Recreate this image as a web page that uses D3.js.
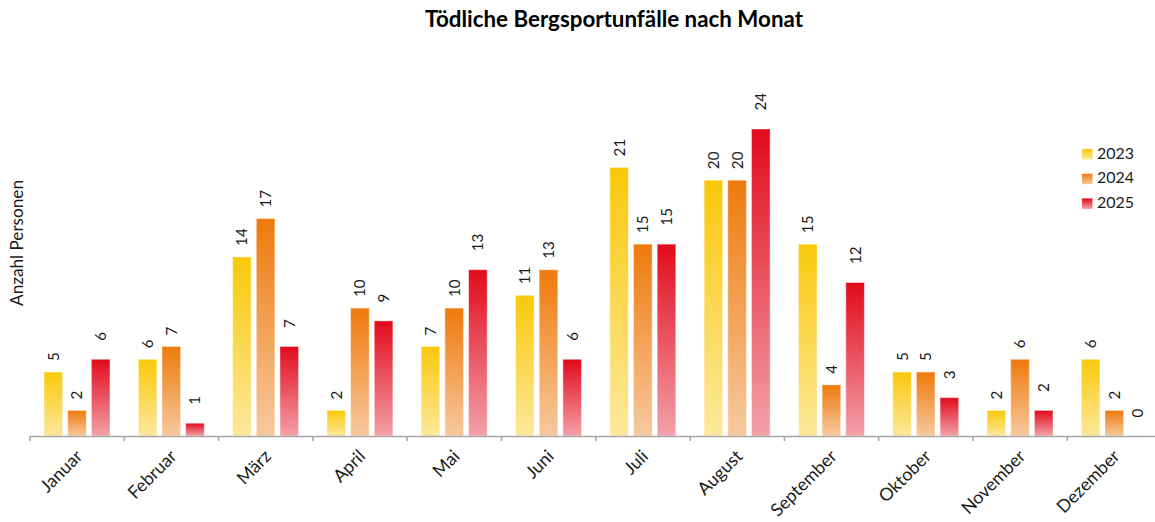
<!DOCTYPE html>
<html>
<head>
<meta charset="utf-8">
<script src="https://cdn.jsdelivr.net/npm/d3@7"></script>
<style>
  html, body { margin: 0; padding: 0; background: #fff; }
  svg { display: block; font-family: Lato, "Open Sans", sans-serif; }
</style>
</head>
<body>
<svg id="chart" width="1155" height="522"></svg>
<script>
// ---- data ----
const months = ["Januar","Februar","März","April","Mai","Juni","Juli","August","September","Oktober","November","Dezember"];
const seriesNames = ["2023","2024","2025"];
const values2023 = [5,6,14,2,7,11,21,20,15,5,2,6];
const values2024 = [2,7,17,10,10,13,15,20,4,5,6,2];
const values2025 = [6,1,7,9,13,6,15,24,12,3,2,0];
const chartTitle = "Tödliche Bergsportunfälle nach Monat";
const yTitle = "Anzahl Personen";

// ---- styles ----
const seriesStyle = {
  "2023": { top: "#F9C80A", bottom: "#FDE89C", labelGap: 11 },
  "2024": { top: "#EE7A0B", bottom: "#F7C99F", labelGap: 11 },
  "2025": { top: "#E20A1B", bottom: "#F3A1A9", labelGap: 18.5 }
};
const seriesValues = { "2023": values2023, "2024": values2024, "2025": values2025 };

const svg = d3.select("#chart");
const defs = svg.append("defs");
seriesNames.forEach((s, i) => {
  const g = defs.append("linearGradient").attr("id", "grad" + i)
    .attr("x1", 0).attr("y1", 0).attr("x2", 0).attr("y2", 1);
  g.append("stop").attr("offset", "0%").attr("stop-color", seriesStyle[s].top);
  g.append("stop").attr("offset", "100%").attr("stop-color", seriesStyle[s].bottom);
});

const axisY = 436;
const bandW = 94.3;
const x = d3.scaleBand().domain(months).range([30, 30 + bandW * 12]).padding(0);
const x1 = d3.scaleBand().domain(seriesNames).range([14, 80]).paddingInner(0.213).paddingOuter(0);
const y = d3.scaleLinear().domain([0, 24]).range([axisY, 129]);

function fit(sel, target) {
  const n = sel.node();
  const fs = parseFloat(sel.attr("font-size"));
  const w = n.getComputedTextLength();
  sel.attr("font-size", (fs * target / w).toFixed(2));
}

// title
const t = svg.append("text").attr("x", 614).attr("y", 27).attr("text-anchor", "middle")
  .attr("font-weight", "bold").attr("font-size", 20).attr("fill", "#000").text(chartTitle);
fit(t, 378);

// y title
const yt = svg.append("text").attr("transform", "translate(17,243) rotate(-90)")
  .attr("text-anchor", "middle").attr("dy", "0.35em").attr("font-size", 16).attr("fill", "#1a1a1a").text(yTitle);
fit(yt, 126);

// bars
const groups = svg.append("g").selectAll("g").data(months).join("g")
  .attr("transform", d => `translate(${x(d)},0)`);

seriesNames.forEach((s, i) => {
  const vals = seriesValues[s];
  groups.append("rect")
    .attr("x", (d) => x1(s))
    .attr("width", x1.bandwidth())
    .attr("y", (d, j) => y(vals[j]))
    .attr("height", (d, j) => axisY - y(vals[j]))
    .attr("fill", `url(#grad${i})`)
    .attr("stroke", "rgba(255,255,255,0.45)")
    .attr("stroke-width", 1);
});

// data labels
const labelSize = 15.2;
seriesNames.forEach((s, i) => {
  const vals = seriesValues[s];
  groups.append("text")
    .attr("transform", (d, j) => `translate(${x1(s) + x1.bandwidth() / 2},${y(vals[j]) - seriesStyle[s].labelGap}) rotate(-90)`)
    .attr("dy", "0.36em")
    .attr("font-size", labelSize)
    .attr("fill", "#1a1a1a")
    .text((d, j) => vals[j]);
});

// axis
const axis = d3.axisBottom(x).tickSize(0).tickSizeOuter(0);
const ax = svg.append("g").attr("transform", `translate(0,${axisY})`).call(axis);
ax.select(".domain").attr("stroke", "#a6a6a6").attr("stroke-width", 1.5);
ax.selectAll(".tick text")
  .attr("font-size", 15)
  .attr("font-family", "Lato, 'Open Sans', sans-serif")
  .attr("fill", "#1a1a1a")
  .attr("text-anchor", "end")
  .attr("transform", "translate(2,17) rotate(-45)")
  .attr("y", 0).attr("x", 0).attr("dy", "0.35em");
// fit label size to "September"
const sepNode = ax.selectAll(".tick text").filter(d => d === "September");
const sw = sepNode.node().getComputedTextLength();
ax.selectAll(".tick text").attr("font-size", (15 * 85 / sw).toFixed(2));

// boundary ticks
ax.selectAll("line.bt").data(months).join("line").attr("class", "bt")
  .attr("x1", d => x(d)).attr("x2", d => x(d))
  .attr("y1", 0).attr("y2", 5)
  .attr("stroke", "#a6a6a6").attr("stroke-width", 1.5);

// legend
const legend = svg.append("g");
seriesNames.forEach((s, i) => {
  const ly = 149 + i * 24.7;
  legend.append("rect").attr("x", 1082).attr("y", ly).attr("width", 10.5).attr("height", 10.5)
    .attr("fill", `url(#grad${i})`);
  const lt = legend.append("text").attr("x", 1097).attr("y", ly + 9.5)
    .attr("font-size", 16).attr("fill", "#1a1a1a").text(s);
  fit(lt, 37);
});
</script>
</body>
</html>
